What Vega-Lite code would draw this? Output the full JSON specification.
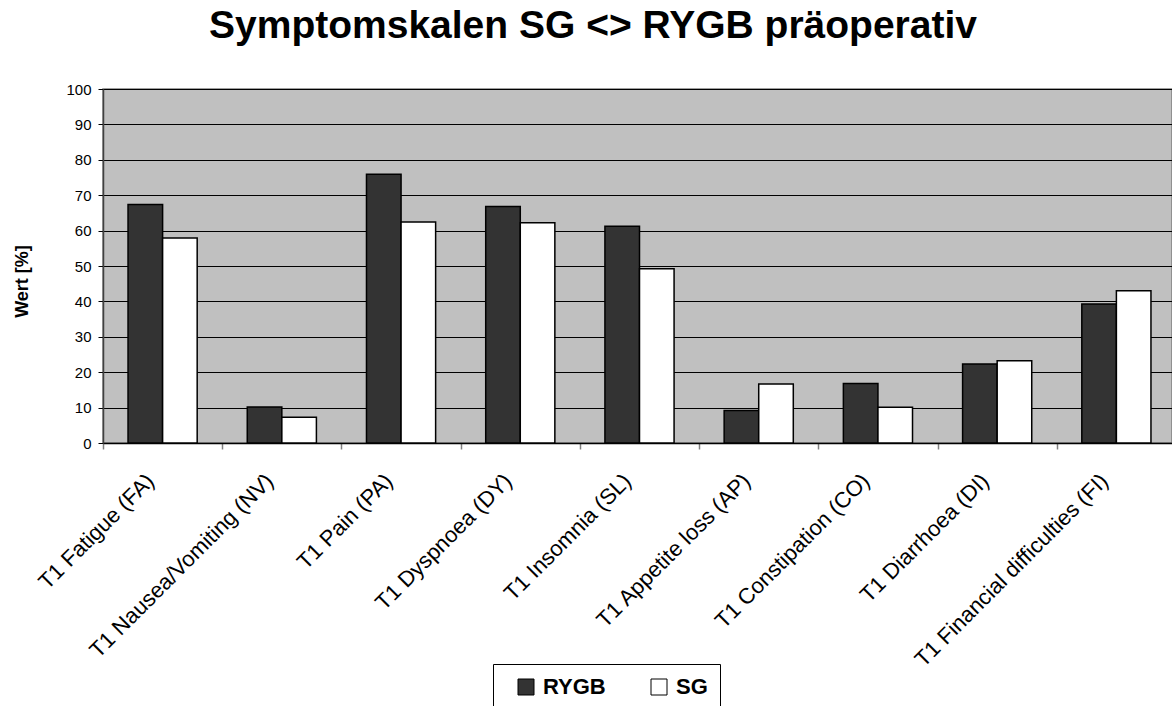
{
  "$schema": "https://vega.github.io/schema/vega-lite/v6.json",
  "width": 1069,
  "height": 354,
  "autosize": {"type": "none"},
  "padding": {"left": 103, "top": 89, "right": 0, "bottom": 263},
  "background": "#ffffff",
  "title": {
    "text": "Symptomskalen SG <> RYGB präoperativ",
    "font": "Liberation Sans",
    "fontSize": 39,
    "fontWeight": "bold",
    "color": "#000000",
    "anchor": "middle",
    "dx": -44.5,
    "offset": 36
  },
  "config": {
    "view": {"fill": "#c0c0c0", "stroke": "#808080", "strokeWidth": 1.5},
    "font": "Liberation Sans"
  },
  "data": {
    "values": [
      {"skala": "T1 Fatigue (FA)", "gruppe": "RYGB", "wert": 67.4},
      {"skala": "T1 Fatigue (FA)", "gruppe": "SG", "wert": 57.9},
      {"skala": "T1 Nausea/Vomiting (NV)", "gruppe": "RYGB", "wert": 10.2},
      {"skala": "T1 Nausea/Vomiting (NV)", "gruppe": "SG", "wert": 7.3},
      {"skala": "T1 Pain (PA)", "gruppe": "RYGB", "wert": 75.9},
      {"skala": "T1 Pain (PA)", "gruppe": "SG", "wert": 62.4},
      {"skala": "T1 Dyspnoea (DY)", "gruppe": "RYGB", "wert": 66.8},
      {"skala": "T1 Dyspnoea (DY)", "gruppe": "SG", "wert": 62.2},
      {"skala": "T1 Insomnia (SL)", "gruppe": "RYGB", "wert": 61.2},
      {"skala": "T1 Insomnia (SL)", "gruppe": "SG", "wert": 49.2},
      {"skala": "T1 Appetite loss (AP)", "gruppe": "RYGB", "wert": 9.2},
      {"skala": "T1 Appetite loss (AP)", "gruppe": "SG", "wert": 16.7},
      {"skala": "T1 Constipation (CO)", "gruppe": "RYGB", "wert": 16.8},
      {"skala": "T1 Constipation (CO)", "gruppe": "SG", "wert": 10.1},
      {"skala": "T1 Diarrhoea (DI)", "gruppe": "RYGB", "wert": 22.3},
      {"skala": "T1 Diarrhoea (DI)", "gruppe": "SG", "wert": 23.2},
      {"skala": "T1 Financial difficulties (FI)", "gruppe": "RYGB", "wert": 39.3},
      {"skala": "T1 Financial difficulties (FI)", "gruppe": "SG", "wert": 43.0}
    ]
  },
  "mark": {"type": "bar", "stroke": "#000000", "strokeWidth": 1.5},
  "encoding": {
    "x": {
      "field": "skala",
      "type": "nominal",
      "sort": null,
      "scale": {"paddingInner": 0.42, "paddingOuter": 0.21, "range": [0, 1073]},
      "axis": {
        "title": null,
        "labelAngle": -45,
        "labelFont": "Liberation Sans",
        "labelFontSize": 22,
        "labelColor": "#000000",
        "labelPadding": 21,
        "labelLimit": 500,
        "tickOffset": -59.6,
        "labelOffset": 40,
        "tickSize": 6,
        "tickColor": "#808080",
        "tickWidth": 1.5,
        "domainColor": "#000000",
        "domainWidth": 1.5
      }
    },
    "xOffset": {
      "field": "gruppe",
      "type": "nominal",
      "sort": ["RYGB", "SG"],
      "scale": {"paddingInner": 0, "paddingOuter": 0}
    },
    "y": {
      "field": "wert",
      "type": "quantitative",
      "scale": {"domain": [0, 100], "nice": false},
      "axis": {
        "title": "Wert [%]",
        "titleFont": "Liberation Sans",
        "titleFontSize": 18,
        "titleFontWeight": "bold",
        "titleColor": "#000000",
        "titleAngle": -90,
        "titleX": -72,
        "titleY": 192,
        "titleAlign": "center",
        "titleBaseline": "bottom",
        "values": [0, 10, 20, 30, 40, 50, 60, 70, 80, 90, 100],
        "labelFont": "Liberation Sans",
        "labelFontSize": 15,
        "labelColor": "#000000",
        "labelPadding": 7,
        "tickSize": 5,
        "tickColor": "#000000",
        "domainColor": "#404040",
        "domainWidth": 1.5,
        "grid": true,
        "gridColor": "#000000",
        "gridWidth": 1
      }
    },
    "fill": {
      "field": "gruppe",
      "type": "nominal",
      "sort": ["RYGB", "SG"],
      "scale": {"domain": ["RYGB", "SG"], "range": ["#333333", "#ffffff"]},
      "legend": {
        "title": null,
        "orient": "none",
        "direction": "horizontal",
        "legendX": 390,
        "legendY": 575,
        "padding": 12,
        "strokeColor": "#000000",
        "fillColor": "#ffffff",
        "symbolType": "square",
        "symbolSize": 256,
        "symbolStrokeColor": "#000000",
        "symbolStrokeWidth": 1,
        "labelFont": "Liberation Sans",
        "labelFontSize": 22,
        "labelFontWeight": "bold",
        "labelColor": "#000000",
        "labelOffset": 6,
        "columnPadding": 32,
        "symbolOffset": 10
      }
    }
  }
}
